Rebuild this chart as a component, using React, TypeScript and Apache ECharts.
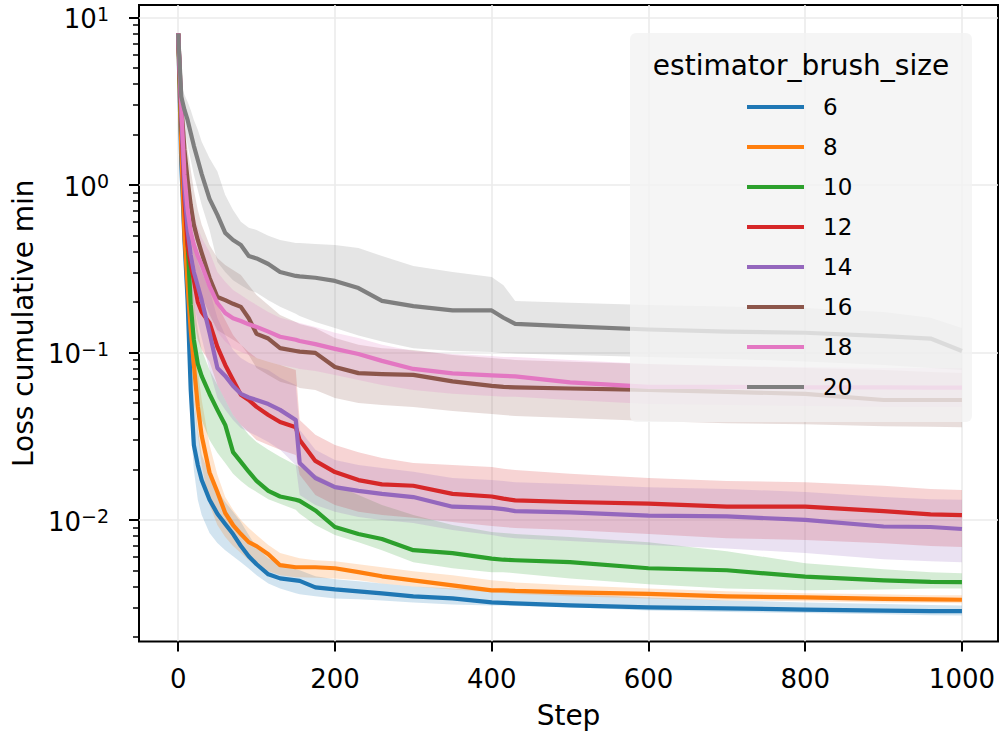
import React, { useEffect, useRef } from 'react';
import * as echarts from 'echarts';

// Optimisation step at which each value was read
const STEPS = [0, 4, 8, 12, 16, 20, 25, 30, 40, 50, 60, 70, 80, 90, 100, 115, 130, 150, 155, 175, 200, 230, 260, 300, 350, 400, 415, 430, 500, 600, 700, 800, 900, 960, 1000];

// estimator_brush_size = 6
const LOSS_6 = [8.0, 1.32, 0.469, 0.205, 0.0597, 0.0280, 0.0213, 0.0173, 0.0132, 0.0109, 0.00946, 0.00824, 0.00699, 0.00608, 0.00544, 0.00474, 0.00448, 0.00436, 0.00433, 0.00396, 0.00385, 0.00375, 0.00365, 0.00350, 0.00340, 0.00322, 0.00320, 0.00318, 0.00309, 0.00301, 0.00297, 0.00292, 0.00288, 0.00286, 0.00286];
const HI_6 = [8.0, 1.62, 0.662, 0.332, 0.119, 0.0558, 0.0345, 0.0244, 0.0186, 0.0151, 0.0128, 0.0112, 0.00973, 0.00812, 0.00689, 0.00590, 0.00544, 0.00508, 0.00501, 0.00461, 0.00442, 0.00430, 0.00418, 0.00401, 0.00390, 0.00380, 0.00375, 0.00375, 0.00360, 0.00345, 0.00331, 0.00322, 0.00315, 0.00311, 0.00309];
const LO_6 = [8.0, 1.0, 0.310, 0.119, 0.0369, 0.0199, 0.0132, 0.0107, 0.00836, 0.00728, 0.00660, 0.00608, 0.00559, 0.00514, 0.00467, 0.00418, 0.00390, 0.00365, 0.00360, 0.00350, 0.00340, 0.00336, 0.00331, 0.00322, 0.00313, 0.00309, 0.00309, 0.00307, 0.00301, 0.00288, 0.00282, 0.00278, 0.00274, 0.00270, 0.00269];

// estimator_brush_size = 8
const LOSS_8 = [8.0, 1.62, 0.502, 0.252, 0.136, 0.0842, 0.0477, 0.0318, 0.0192, 0.0147, 0.0110, 0.00933, 0.00824, 0.00737, 0.00698, 0.00625, 0.00537, 0.00522, 0.00522, 0.00522, 0.00515, 0.00488, 0.00461, 0.00436, 0.00407, 0.00380, 0.00380, 0.00377, 0.00370, 0.00362, 0.00350, 0.00345, 0.00338, 0.00336, 0.00334];
const HI_8 = [8.0, 1.99, 0.759, 0.381, 0.205, 0.127, 0.0786, 0.0520, 0.0280, 0.0186, 0.0137, 0.0115, 0.0100, 0.00895, 0.00812, 0.00708, 0.00634, 0.00600, 0.00591, 0.00575, 0.00567, 0.00544, 0.00522, 0.00494, 0.00467, 0.00436, 0.00430, 0.00424, 0.00407, 0.00390, 0.00375, 0.00365, 0.00360, 0.00355, 0.00355];
const LO_8 = [8.0, 1.23, 0.332, 0.156, 0.0842, 0.0520, 0.0322, 0.0213, 0.0123, 0.00933, 0.00790, 0.00698, 0.00634, 0.00575, 0.00530, 0.00494, 0.00467, 0.00455, 0.00455, 0.00452, 0.00448, 0.00436, 0.00418, 0.00401, 0.00385, 0.00370, 0.00365, 0.00362, 0.00350, 0.00340, 0.00331, 0.00327, 0.00322, 0.00320, 0.00318];

// estimator_brush_size = 10
const LOSS_10 = [8.0, 2.28, 1.23, 0.451, 0.192, 0.119, 0.0854, 0.0722, 0.0565, 0.0454, 0.0369, 0.0254, 0.0222, 0.0194, 0.0171, 0.0149, 0.0138, 0.0132, 0.0130, 0.0114, 0.00908, 0.00824, 0.00770, 0.00660, 0.00634, 0.00588, 0.00579, 0.00575, 0.00560, 0.00515, 0.00501, 0.00459, 0.00436, 0.00427, 0.00426];
const HI_10 = [8.0, 2.80, 1.73, 0.814, 0.356, 0.205, 0.136, 0.1035, 0.0786, 0.0640, 0.0520, 0.0423, 0.0369, 0.0322, 0.0292, 0.0262, 0.0238, 0.0213, 0.0207, 0.0186, 0.0162, 0.0141, 0.0123, 0.0107, 0.00933, 0.00848, 0.00836, 0.00825, 0.00790, 0.00737, 0.00651, 0.00552, 0.00508, 0.00488, 0.00481];
const LO_10 = [8.0, 1.86, 0.814, 0.252, 0.111, 0.0640, 0.0486, 0.0395, 0.0300, 0.0252, 0.0219, 0.0189, 0.0171, 0.0157, 0.0147, 0.0133, 0.0125, 0.0115, 0.0109, 0.00933, 0.00812, 0.00737, 0.00660, 0.00560, 0.00515, 0.00488, 0.00488, 0.00481, 0.00448, 0.00413, 0.00390, 0.00380, 0.00385, 0.00390, 0.00390];

// estimator_brush_size = 12
const LOSS_12 = [8.0, 2.51, 0.814, 0.438, 0.332, 0.270, 0.200, 0.174, 0.150, 0.108, 0.0842, 0.0685, 0.0558, 0.0520, 0.0473, 0.0423, 0.0384, 0.0358, 0.0300, 0.0225, 0.0193, 0.0173, 0.0163, 0.0160, 0.0143, 0.0138, 0.0134, 0.0131, 0.0128, 0.0125, 0.0120, 0.0120, 0.0113, 0.0108, 0.0107];
const HI_12 = [8.0, 3.22, 1.23, 0.709, 0.538, 0.438, 0.346, 0.302, 0.236, 0.192, 0.156, 0.127, 0.111, 0.1007, 0.0927, 0.0878, 0.0842, 0.0786, 0.0395, 0.0322, 0.0280, 0.0254, 0.0234, 0.0219, 0.0213, 0.0207, 0.0202, 0.0199, 0.0189, 0.0178, 0.0171, 0.0168, 0.0160, 0.0153, 0.0151];
const LO_12 = [8.0, 1.86, 0.538, 0.252, 0.192, 0.156, 0.119, 0.1035, 0.0878, 0.0640, 0.0520, 0.0423, 0.0369, 0.0335, 0.0300, 0.0280, 0.0262, 0.0244, 0.0186, 0.0141, 0.0123, 0.0112, 0.0107, 0.0103, 0.00973, 0.00921, 0.00908, 0.00895, 0.00871, 0.00825, 0.00779, 0.00758, 0.00727, 0.00698, 0.00689];

// estimator_brush_size = 14
const LOSS_14 = [8.0, 2.62, 0.933, 0.538, 0.381, 0.302, 0.249, 0.205, 0.131, 0.0808, 0.0724, 0.0631, 0.0566, 0.0538, 0.0520, 0.0492, 0.0454, 0.0395, 0.0219, 0.0178, 0.0157, 0.0149, 0.0143, 0.0137, 0.0120, 0.0118, 0.0116, 0.0113, 0.0111, 0.0106, 0.0105, 0.0100, 0.00914, 0.00908, 0.00883];
const HI_14 = [8.0, 3.45, 1.41, 0.814, 0.602, 0.483, 0.409, 0.346, 0.236, 0.161, 0.127, 0.1035, 0.0927, 0.0866, 0.0830, 0.0786, 0.0707, 0.0640, 0.0345, 0.0262, 0.0228, 0.0213, 0.0204, 0.0194, 0.0178, 0.0173, 0.0171, 0.0168, 0.0164, 0.0157, 0.0153, 0.0147, 0.0137, 0.0133, 0.0132];
const LO_14 = [8.0, 1.86, 0.577, 0.332, 0.236, 0.192, 0.152, 0.122, 0.0786, 0.0535, 0.0454, 0.0395, 0.0354, 0.0335, 0.0318, 0.0292, 0.0262, 0.0213, 0.0141, 0.0123, 0.0112, 0.0104, 0.0100, 0.00959, 0.00871, 0.00812, 0.00790, 0.00779, 0.00748, 0.00708, 0.00675, 0.00635, 0.00583, 0.00567, 0.00560];

// estimator_brush_size = 16
const LOSS_16 = [8.0, 3.00, 1.62, 1.07, 0.759, 0.577, 0.469, 0.393, 0.279, 0.214, 0.205, 0.195, 0.187, 0.160, 0.129, 0.121, 0.106, 0.102, 0.101, 0.0993, 0.0818, 0.0752, 0.0742, 0.0734, 0.0671, 0.0631, 0.0622, 0.0618, 0.0609, 0.0597, 0.0581, 0.0566, 0.0520, 0.0520, 0.0520];
const HI_16 = [8.0, 3.95, 2.28, 1.62, 1.23, 0.933, 0.709, 0.577, 0.438, 0.366, 0.332, 0.310, 0.290, 0.252, 0.220, 0.192, 0.167, 0.152, 0.148, 0.140, 0.122, 0.111, 0.106, 0.1035, 0.0966, 0.0927, 0.0914, 0.0902, 0.0878, 0.0854, 0.0830, 0.0808, 0.0786, 0.0765, 0.0754];
const LO_16 = [8.0, 2.13, 1.07, 0.662, 0.469, 0.356, 0.270, 0.220, 0.167, 0.136, 0.127, 0.119, 0.111, 0.0966, 0.0808, 0.0734, 0.0667, 0.0631, 0.0614, 0.0597, 0.0535, 0.0499, 0.0486, 0.0473, 0.0447, 0.0429, 0.0423, 0.0417, 0.0406, 0.0389, 0.0378, 0.0373, 0.0363, 0.0360, 0.0358];

// estimator_brush_size = 18
const LOSS_18 = [8.0, 2.88, 1.15, 0.709, 0.524, 0.438, 0.376, 0.332, 0.249, 0.197, 0.172, 0.160, 0.154, 0.147, 0.142, 0.133, 0.124, 0.119, 0.117, 0.112, 0.105, 0.0979, 0.0890, 0.0797, 0.0750, 0.0729, 0.0724, 0.0719, 0.0662, 0.0622, 0.0622, 0.0618, 0.0618, 0.0617, 0.0617];
const HI_18 = [8.0, 3.69, 1.73, 1.07, 0.814, 0.662, 0.554, 0.483, 0.398, 0.302, 0.264, 0.236, 0.220, 0.205, 0.192, 0.174, 0.161, 0.152, 0.150, 0.142, 0.131, 0.122, 0.111, 0.102, 0.0979, 0.0953, 0.0940, 0.0940, 0.0902, 0.0854, 0.0830, 0.0819, 0.0808, 0.0808, 0.0808];
const LO_18 = [8.0, 2.13, 0.759, 0.469, 0.346, 0.290, 0.242, 0.212, 0.174, 0.133, 0.116, 0.106, 0.1007, 0.0966, 0.0927, 0.0878, 0.0842, 0.0808, 0.0797, 0.0775, 0.0734, 0.0685, 0.0640, 0.0597, 0.0566, 0.0550, 0.0543, 0.0543, 0.0520, 0.0492, 0.0486, 0.0479, 0.0473, 0.0473, 0.0473];

// estimator_brush_size = 20
const LOSS_20 = [8.0, 3.35, 2.80, 2.44, 2.04, 1.71, 1.41, 1.16, 0.825, 0.662, 0.517, 0.469, 0.438, 0.376, 0.364, 0.337, 0.302, 0.286, 0.284, 0.279, 0.267, 0.242, 0.203, 0.189, 0.178, 0.178, 0.161, 0.148, 0.143, 0.137, 0.133, 0.131, 0.125, 0.121, 0.102];
const HI_20 = [8.0, 3.95, 3.45, 3.13, 2.80, 2.44, 2.13, 1.81, 1.44, 1.20, 0.871, 0.709, 0.602, 0.554, 0.538, 0.496, 0.469, 0.450, 0.450, 0.444, 0.438, 0.420, 0.376, 0.328, 0.302, 0.282, 0.252, 0.203, 0.198, 0.192, 0.188, 0.184, 0.174, 0.161, 0.140];
const LO_20 = [8.0, 2.80, 2.13, 1.73, 1.41, 1.15, 0.933, 0.759, 0.538, 0.346, 0.302, 0.270, 0.252, 0.236, 0.227, 0.205, 0.187, 0.170, 0.165, 0.152, 0.140, 0.126, 0.116, 0.106, 0.102, 0.1007, 0.0993, 0.0986, 0.0966, 0.0940, 0.0914, 0.0882, 0.0842, 0.0808, 0.0786];

const SIZES = ['6', '8', '10', '12', '14', '16', '18', '20'];
const COLORS = ['#1f77b4', '#ff7f0e', '#2ca02c', '#d62728', '#9467bd', '#8c564b', '#e377c2', '#7f7f7f'];
const MEDIANS = [LOSS_6, LOSS_8, LOSS_10, LOSS_12, LOSS_14, LOSS_16, LOSS_18, LOSS_20];
const UPPERS = [HI_6, HI_8, HI_10, HI_12, HI_14, HI_16, HI_18, HI_20];
const LOWERS = [LO_6, LO_8, LO_10, LO_12, LO_14, LO_16, LO_18, LO_20];

const X_TICKS = [0, 200, 400, 600, 800, 1000];
const Y_DECADES = [-2, -1, 0, 1]; // exponents of the labelled decades
const MINOR_MULTS = [2, 3, 4, 5, 6, 7, 8, 9];
const MINOR_DECADES = [-3, -2, -1, 0];

const FONT = 'DejaVu Sans';
const X_MIN = -50;
const X_MAX = 1046;
const Y_MIN = -2.7254; // log10 of the axis bottom
const Y_MAX = 1.0734; // log10 of the axis top

function rgba(hex: string, a: number) {
  const n = parseInt(hex.slice(1), 16);
  return `rgba(${(n >> 16) & 255},${(n >> 8) & 255},${n & 255},${a})`;
}

export default function App() {
  const ref = useRef<HTMLDivElement>(null);

  useEffect(() => {
    document.body.style.margin = '0';
    if (!ref.current) return;
    const chart = echarts.init(ref.current, undefined, { renderer: 'svg' });

    const minorTicks: number[] = [];
    MINOR_DECADES.forEach((d) => MINOR_MULTS.forEach((m) => minorTicks.push(d + Math.log10(m))));

    const series: any[] = [];
    SIZES.forEach((name, k) => {
      const color = COLORS[k];
      const hi = UPPERS[k];
      const lo = LOWERS[k];
      series.push({
        type: 'custom',
        name: name + ' band',
        silent: true,
        z: 2,
        data: [[0, 0]],
        encode: { x: 0, y: 1 },
        renderItem: (_p: any, api: any) => {
          const pts: number[][] = [];
          for (let i = 0; i < STEPS.length; i++) pts.push(api.coord([STEPS[i], Math.log10(hi[i])]));
          for (let i = STEPS.length - 1; i >= 0; i--) pts.push(api.coord([STEPS[i], Math.log10(lo[i])]));
          return { type: 'polygon', shape: { points: pts }, style: { fill: rgba(color, 0.2) } };
        },
      });
      series.push({
        type: 'line',
        name,
        color,
        silent: true,
        z: 2,
        symbol: 'none',
        showSymbol: false,
        data: STEPS.map((s, i) => [s, Math.log10(MEDIANS[k][i])]),
        lineStyle: { color, width: 4.2, join: 'round', cap: 'butt' },
        itemStyle: { color, borderWidth: 0 },
      });
    });

    const option: any = {
      animation: false,
      backgroundColor: '#ffffff',
      textStyle: { fontFamily: FONT },
      grid: {
        left: 139,
        top: 5,
        right: 4,
        bottom: 102.5,
        show: true,
        borderColor: '#000000',
        borderWidth: 2,
        backgroundColor: 'transparent',
        containLabel: false,
        outerBoundsMode: 'none',
      },
      xAxis: {
        type: 'value',
        min: X_MIN,
        max: X_MAX,
        position: 'bottom',
        name: 'Step',
        nameLocation: 'middle',
        nameGap: 60,
        nameMoveOverlap: false,
        nameTextStyle: { fontSize: 28, fontFamily: FONT, color: '#000' },
        axisLine: { show: false, onZero: false },
        axisTick: { show: true, customValues: X_TICKS, length: 10, lineStyle: { color: '#000', width: 2 } },
        axisLabel: {
          customValues: X_TICKS,
          margin: 24,
          fontSize: 26,
          fontFamily: FONT,
          color: '#000',
          formatter: (v: number) => String(Math.round(v)),
        },
        splitLine: { show: true, lineStyle: { color: '#ebebeb', width: 1.6 } },
        minorTick: { show: false },
      },
      yAxis: [
        {
          type: 'value',
          min: Y_MIN,
          max: Y_MAX,
          position: 'left',
          name: 'Loss cumulative min',
          nameLocation: 'middle',
          nameGap: 102,
          nameMoveOverlap: false,
          nameTextStyle: { fontSize: 28, fontFamily: FONT, color: '#000' },
          axisLine: { show: false, onZero: false },
          axisTick: { show: true, customValues: Y_DECADES, length: 10, lineStyle: { color: '#000', width: 2 } },
          axisLabel: {
            customValues: Y_DECADES,
            margin: 30,
            color: '#000',
            fontFamily: FONT,
            formatter: (v: number) => {
              const e = Math.round(v);
              const sup = e < 0 ? '\u2212' + String(-e) : String(e);
              return '{b|10}{s|' + sup + '}';
            },
            rich: {
              b: { fontSize: 26, lineHeight: 26, padding: [4, 0, 0, 0], fontFamily: FONT, color: '#000' },
              s: { fontSize: 19, lineHeight: 19, verticalAlign: 'top', fontFamily: FONT, color: '#000' },
            },
          },
          splitLine: { show: true, lineStyle: { color: '#ebebeb', width: 1.6 } },
          minorTick: { show: false },
        },
        {
          type: 'value',
          min: Y_MIN,
          max: Y_MAX,
          position: 'left',
          axisLine: { show: false, onZero: false },
          axisTick: { show: true, customValues: minorTicks, length: 6, lineStyle: { color: '#000', width: 1.5 } },
          axisLabel: { show: false },
          splitLine: { show: false },
        },
      ],
      legend: {
        data: SIZES,
        orient: 'vertical',
        left: 747,
        top: 95,
        padding: 0,
        itemWidth: 57,
        itemHeight: 4,
        itemGap: 16,
        icon: 'rect',
        selectedMode: false,
        z: 10,
        itemStyle: { borderWidth: 0 },
        textStyle: { fontSize: 23, lineHeight: 24, fontFamily: FONT, color: '#000', padding: [0, 0, 0, 14] },
      },
      graphic: [
        {
          type: 'rect',
          z: 5,
          silent: true,
          shape: { x: 630, y: 33, width: 342, height: 389, r: 6 },
          style: { fill: 'rgba(242,242,242,0.8)' },
        },
        {
          type: 'text',
          z: 11,
          silent: true,
          x: 801,
          y: 65,
          style: {
            text: 'estimator_brush_size',
            fontSize: 28,
            fontFamily: FONT,
            fill: '#000',
            align: 'center',
            verticalAlign: 'middle',
          },
        },
      ],
      series,
    };

    chart.setOption(option);
    return () => chart.dispose();
  }, []);

  return <div ref={ref} style={{ width: 1002, height: 744, background: '#fff' }} />;
}
